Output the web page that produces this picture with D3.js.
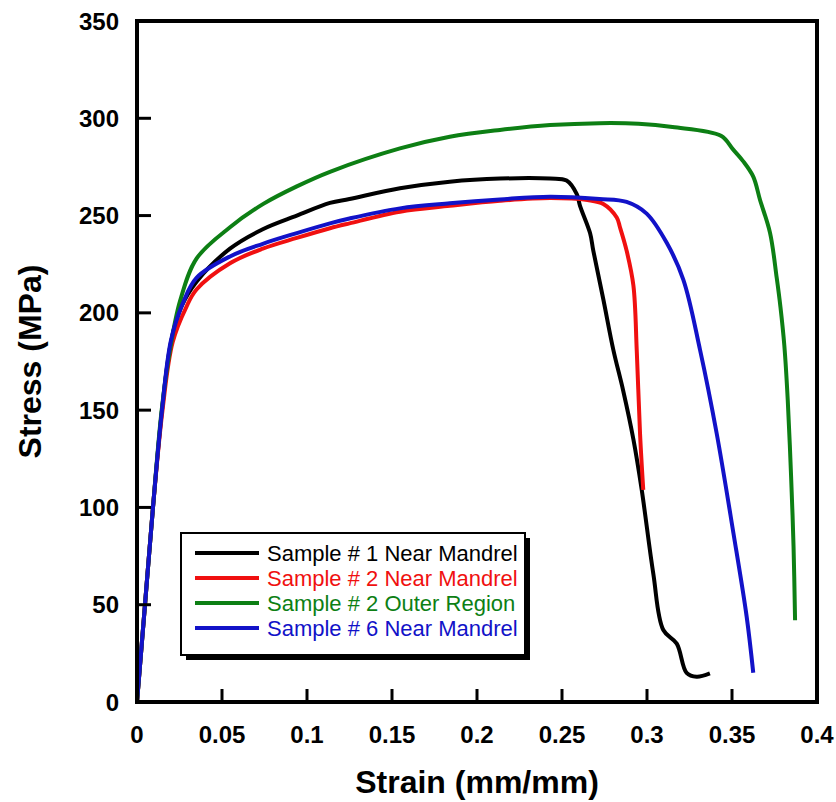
<!DOCTYPE html>
<html>
<head>
<meta charset="utf-8">
<script src="https://cdn.jsdelivr.net/npm/d3@7"></script>
<style>
  body { margin: 0; background: #fff; }
  svg { display: block; font-family: "Liberation Sans", Arial, sans-serif; }
</style>
</head>
<body>
<svg></svg>
<script>
const width = 836;
const height = 802;

// series names and colours
const seriesNames = [
  "Sample # 1 Near Mandrel",
  "Sample # 2 Near Mandrel",
  "Sample # 2 Outer Region",
  "Sample # 6 Near Mandrel",
];
const seriesColors = ["#000000", "#f01010", "#0d7f14", "#1212c8"];

// [strain, stress]
const sample1Near = [
  [0, 0], [0.0047, 50], [0.0094, 100], [0.0147, 150], [0.02, 185], [0.026, 203],
  [0.035, 216], [0.0547, 233], [0.074, 243], [0.094, 250], [0.1135, 256.5],
  [0.125, 258.5], [0.1547, 264], [0.184, 267.4], [0.2135, 269], [0.243, 269],
  [0.2527, 268], [0.2587, 261], [0.2606, 255], [0.2665, 241], [0.2684, 232],
  [0.2743, 207], [0.2802, 181], [0.286, 160], [0.292, 135], [0.2969, 109],
  [0.3037, 66], [0.3096, 37], [0.3175, 30], [0.3233, 15], [0.3292, 13], [0.337, 14.7],
];
const sample2Near = [
  [0, 0], [0.0047, 50], [0.0094, 100], [0.015, 150], [0.021, 185], [0.029, 203],
  [0.035, 212], [0.0547, 225.5], [0.074, 233], [0.094, 238.5], [0.1135, 243.5],
  [0.125, 246], [0.1547, 252], [0.184, 255], [0.2135, 257.6], [0.243, 259],
  [0.265, 258], [0.2743, 256], [0.2822, 249], [0.2841, 244], [0.288, 232],
  [0.292, 214], [0.294, 180], [0.2959, 138], [0.2978, 109],
];
const sample2Outer = [
  [0, 0], [0.0047, 50], [0.0094, 100], [0.0145, 150], [0.0194, 181], [0.0253, 206],
  [0.0351, 228], [0.0547, 244], [0.0743, 256], [0.094, 265], [0.1135, 272.5],
  [0.1547, 284.5], [0.184, 290.5], [0.2135, 294], [0.243, 296.5], [0.272, 297.5],
  [0.295, 297.2], [0.315, 295.5], [0.3435, 291], [0.3506, 284], [0.3565, 278],
  [0.3625, 270], [0.3665, 258], [0.3724, 241], [0.3763, 218], [0.3785, 203],
  [0.3808, 183], [0.3828, 155], [0.3848, 115], [0.3862, 80], [0.3871, 42],
];
const sample6Near = [
  [0, 0], [0.0047, 50], [0.0094, 100], [0.0147, 150], [0.02, 186], [0.027, 205],
  [0.035, 218], [0.0547, 229], [0.074, 235.5], [0.094, 241], [0.1135, 246],
  [0.125, 248.5], [0.1547, 253.7], [0.184, 256.3], [0.2135, 258.3], [0.243, 259.7],
  [0.272, 258.5], [0.288, 257], [0.2998, 251], [0.3116, 236], [0.3214, 217],
  [0.3312, 181], [0.341, 138], [0.3508, 87], [0.3586, 44], [0.3625, 15],
];
const seriesData = [sample1Near, sample2Near, sample2Outer, sample6Near];

const xTicks = [0, 0.05, 0.1, 0.15, 0.2, 0.25, 0.3, 0.35, 0.4];
const xTickLabels = ["0", "0.05", "0.1", "0.15", "0.2", "0.25", "0.3", "0.35", "0.4"];
const yTicks = [0, 50, 100, 150, 200, 250, 300, 350];

const margin = { left: 137, right: 19, top: 21, bottom: 100 };

const svg = d3.select("svg").attr("width", width).attr("height", height);

const x = d3.scaleLinear().domain([0, 0.4]).range([margin.left, width - margin.right]);
const y = d3.scaleLinear().domain([0, 350]).range([height - margin.bottom, margin.top]);

// curves
const line = d3.line()
  .x((d) => x(d[0]))
  .y((d) => y(d[1]))
  .curve(d3.curveCatmullRom.alpha(0.5));

svg.append("g")
  .selectAll("path")
  .data(seriesData)
  .enter()
  .append("path")
  .attr("d", line)
  .attr("fill", "none")
  .attr("stroke", (d, i) => seriesColors[i])
  .attr("stroke-width", 4)
  .attr("stroke-linejoin", "round");

// tick labels
svg.append("g")
  .selectAll("text")
  .data(xTicks)
  .enter()
  .append("text")
  .attr("x", (d) => x(d))
  .attr("y", 743)
  .attr("text-anchor", "middle")
  .style("font-size", "24px")
  .style("font-weight", "bold")
  .text((d, i) => xTickLabels[i]);

svg.append("g")
  .selectAll("text")
  .data(yTicks)
  .enter()
  .append("text")
  .attr("x", 119)
  .attr("y", (d) => y(d))
  .attr("dy", "0.36em")
  .attr("text-anchor", "end")
  .style("font-size", "24px")
  .style("font-weight", "bold")
  .text((d) => d);

// inward tick marks
svg.append("g")
  .selectAll("line")
  .data(xTicks.slice(1, -1))
  .enter()
  .append("line")
  .attr("x1", (d) => x(d)).attr("x2", (d) => x(d))
  .attr("y1", y(0)).attr("y2", y(0) - 13)
  .attr("stroke", "#000").attr("stroke-width", 3);

svg.append("g")
  .selectAll("line")
  .data(yTicks.slice(1, -1))
  .enter()
  .append("line")
  .attr("x1", x(0)).attr("x2", x(0) + 14)
  .attr("y1", (d) => y(d)).attr("y2", (d) => y(d))
  .attr("stroke", "#000").attr("stroke-width", 3);

// frame
svg.append("rect")
  .attr("x", x(0))
  .attr("y", y(350))
  .attr("width", x(0.4) - x(0))
  .attr("height", y(0) - y(350))
  .attr("fill", "none")
  .attr("stroke", "#000")
  .attr("stroke-width", 4);

// axis titles
svg.append("text")
  .attr("x", (x(0) + x(0.4)) / 2)
  .attr("y", 793)
  .attr("text-anchor", "middle")
  .style("font-size", "32px")
  .style("font-weight", "bold")
  .text("Strain (mm/mm)");

svg.append("text")
  .attr("transform", `translate(41,${(y(0) + y(350)) / 2}) rotate(-90)`)
  .attr("text-anchor", "middle")
  .style("font-size", "32px")
  .style("font-weight", "bold")
  .text("Stress (MPa)");

// legend
const legend = svg.append("g").attr("transform", "translate(181,533)");
legend.append("rect")
  .attr("x", 5).attr("y", 5).attr("width", 344).attr("height", 122)
  .attr("fill", "#000");
legend.append("rect")
  .attr("width", 344).attr("height", 122)
  .attr("fill", "#fff").attr("stroke", "#000").attr("stroke-width", 2);

const rows = legend.selectAll("g.row")
  .data(seriesNames)
  .enter()
  .append("g")
  .attr("class", "row")
  .attr("transform", (d, i) => `translate(0,${20 + i * 25})`);
rows.append("line")
  .attr("x1", 14).attr("x2", 78)
  .attr("stroke", (d, i) => seriesColors[i])
  .attr("stroke-width", 4);
rows.append("text")
  .attr("x", 86)
  .attr("dy", "0.36em")
  .attr("fill", (d, i) => seriesColors[i])
  .style("font-size", "22px")
  .text((d) => d);
</script>
</body>
</html>
